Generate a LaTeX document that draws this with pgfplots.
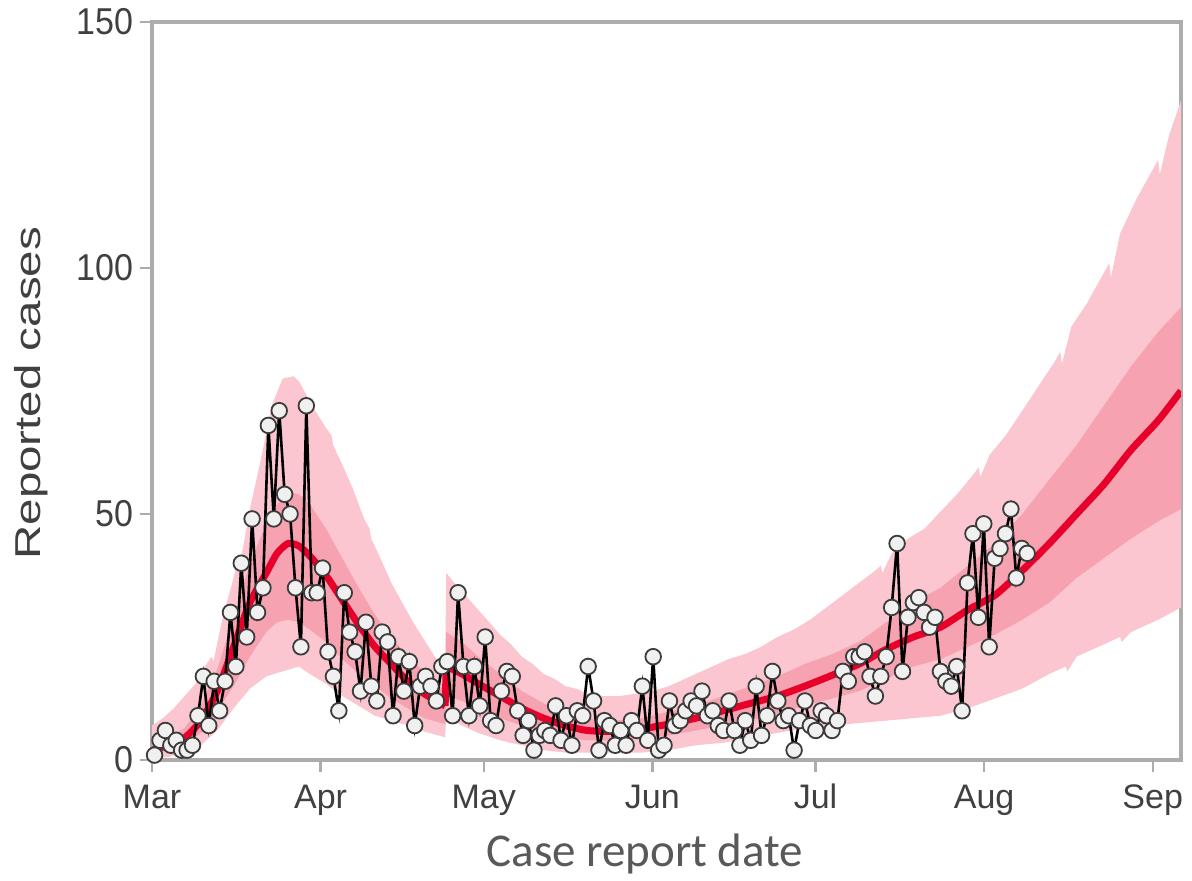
\documentclass[border=0pt]{standalone}
\usepackage{fontspec}
\setmainfont{Liberation Sans}
\newfontfamily\carlito{Carlito}
\usepackage{pgfplots}
\usepackage{pgfplotstable}
\pgfplotsset{compat=1.18}
\usepgfplotslibrary{fillbetween}
\definecolor{medred}{RGB}{230,0,42}
\definecolor{innerpink}{RGB}{247,162,177}
\definecolor{outerpink}{RGB}{251,198,208}
\definecolor{axisgray}{RGB}{172,172,172}
\definecolor{labelgray}{RGB}{64,64,64}
\definecolor{titlegray}{RGB}{89,89,89}
\definecolor{markfill}{RGB}{240,240,240}
\definecolor{markdraw}{RGB}{60,60,60}

\pgfplotstableread{
d v
0 1
1 4
2 6
3 3
4 4
5 2
6 2
7 3
8 9
9 17
10 7
11 16
12 10
13 16
14 30
15 19
16 40
17 25
18 49
19 30
20 35
21 68
22 49
23 71
24 54
25 50
26 35
27 23
28 72
29 34
30 34
31 39
32 22
33 17
34 10
35 34
36 26
37 22
38 14
39 28
40 15
41 12
42 26
43 24
44 9
45 21
46 14
47 20
48 7
49 15
50 17
51 15
52 12
53 19
54 20
55 9
56 34
57 19
58 9
59 19
60 11
61 25
62 8
63 7
64 14
65 18
66 17
67 10
68 5
69 8
70 2
71 5
72 6
73 5
74 11
75 4
76 9
77 3
78 10
79 9
80 19
81 12
82 2
83 8
84 7
85 3
86 6
87 3
88 8
89 6
90 15
91 4
92 21
93 2
94 3
95 12
96 7
97 8
98 10
99 12
100 11
101 14
102 9
103 10
104 7
105 6
106 12
107 6
108 3
109 8
110 4
111 15
112 5
113 9
114 18
115 12
116 8
117 9
118 2
119 8
120 12
121 7
122 6
123 10
124 9
125 6
126 8
127 18
128 16
129 21
130 21
131 22
132 17
133 13
134 17
135 21
136 31
137 44
138 18
139 29
140 32
141 33
142 30
143 27
144 29
145 18
146 16
147 15
148 19
149 10
150 36
151 46
152 29
153 48
154 23
155 41
156 43
157 46
158 51
159 37
160 43
161 42
}\obs

% outer (95%) band
\pgfplotstableread{
d hi
0 7
2 8.5
4 10.5
6 13
8 15.5
10 19.5
11 21
11.3 20
13 29
15 37
16 42
16.3 40.5
18 51
20 61
22 72
24 77.5
26 78
27 77
28 75
30 71
32 67.5
33 66
33.3 64
35 60
37 55
39 49
40 47
40.3 45
42 41
44 36
46 32
48 28
50 24.5
52 21
53.9 18.5
54.1 38
56 35.5
58 33
60 30.5
62 28
64 25.5
66 23.5
68 21
70 19.5
72 17.5
74 16.5
76 15
78 14.5
80 13.5
83 13
86 13
89 13.5
92 14
95 15
98 16.5
100 17.5
103 19
106 20.5
109 21.5
112 23
115 25
118 26.5
121 28.5
124 31
127 33.5
130 36
133 38.5
134 39.5
134.3 38
136 42
139 45
142 47
145 50.5
148 54
151 58
152 59.5
152.3 57.5
154 62
157 66
160 71
163 76
166 81
167 83
167.3 80.5
169 88
172 93
175 99
176 101
176.3 98
178 107
181 114
184 120
185 122
185.3 119
187 127
189.2 134
}\outerhi
\pgfplotstableread{
d lo
0 0.3
3 0.6
6 1.5
9 3
12 6
15 10.5
18 14.5
21 17
24 18
27 19
29 17.5
32 15.5
35 13
38 11
41 9
44 8
47 7
50 5.8
53.9 4.6
54.1 8.7
57 7
60 5.5
64 4
68 3
72 2
76 1.5
80 1.5
85 1.5
90 1.5
95 2
100 3
105 3.5
110 4.5
115 5.5
120 6.5
125 7
130 7.5
135 8
140 8.5
145 9
150 10.5
155 12.5
160 14.5
165 17.5
168 19
168.3 18
170 21
175 23.5
178 25
178.3 24
180 26
185 28.5
189.2 31
}\outerlo

% inner (50%) band
\pgfplotstableread{
d lo hi
0 1.3 3
3 2 4.5
6 3.2 6.5
9 5.5 11
12 10 18.5
15 15 29
18 21 40
21 26 48
23 28 52
25 28.5 54.5
27 28 54
29 26.5 52
32 24 47
35 20.5 41
38 17.5 35
41 15 29.5
44 12.5 25
47 10.5 21
50 8.5 18
53.9 7.3 14
54.1 13 26
57 12 24
60 10.5 21
64 8.5 17.5
68 7 14
72 5.5 11.5
76 4.5 9.5
80 4 8.5
85 4 8
90 4.3 8.5
95 5 9.8
100 6 11
105 7 13
110 8 15
115 9.5 17
120 11 19.5
125 12.5 21.5
130 14 24
135 16.5 28
140 19 32
145 20.5 35
150 23 39.5
155 25.5 44
160 28.5 50
165 32 57
170 37 64
175 41 72
180 45 80
185 48.5 87
189.2 51 92
}\inner

% median, two pieces either side of the step
\pgfplotstableread{
d v
0 2
3 3
6 4.5
9 8
12 14
15 23
18 32
21 38
23 42
25 44
27 43.5
29 41.5
32 37.5
35 32.5
38 27.5
41 23
44 19.5
47 16
50 13.5
53.9 11
}\medA
\pgfplotstableread{
d v
54.1 19
57 17.5
60 15.5
64 13
68 10.5
72 8.5
76 7
80 6
85 5.8
90 6.3
95 7.3
100 8.5
105 10
110 11.5
115 13
120 15
125 17.2
130 19.5
135 22.5
140 25
145 27
150 30.5
155 33.5
160 38.5
165 44
170 50
175 56
180 63
185 69
189.2 75
}\medB

\begin{document}
\begin{tikzpicture}
\begin{axis}[
  at={(0,0)}, anchor=south west,
  scale only axis, width=514.5pt, height=369pt,
  xmin=0, xmax=189.2, ymin=0, ymax=150,
  xtick={0,31,61,92,122,153,184},
  xticklabels={Mar,Apr,May,Jun,Jul,Aug,Sep},
  ytick={0,50,100,150},
  xtick pos=bottom, ytick pos=left,
  tick align=outside, major tick length=6pt,
  axis line style={draw=axisgray, line width=2pt},
  tick style={draw=axisgray, line width=1.2pt},
  /pgf/number format/assume math mode=true,
  tick label style={font=\fontsize{17}{17}\selectfont, text=labelgray},
  yticklabel style={yscale=1.1},
  xticklabel style={anchor=base, yshift=-18.5pt},
  xlabel={\carlito\fontsize{23.5}{23.5}\selectfont Case report date},
  xlabel style={at={(axis description cs:0.479,0)}, anchor=base, yshift=-53.5pt, text=titlegray},
  ylabel={\scalebox{1.32}[1]{\fontsize{18}{18}\selectfont Reported cases}},
  ylabel style={at={(axis description cs:-0.117,0.497)}, anchor=center, text=labelgray},
]
\addplot[name path=u95, draw=none, forget plot] table[x=d, y=hi] {\outerhi};
\addplot[name path=l95, draw=none, forget plot] table[x=d, y=lo] {\outerlo};
\addplot[outerpink, forget plot] fill between[of=u95 and l95];
\addplot[name path=u50, draw=none, forget plot] table[x=d, y=hi] {\inner};
\addplot[name path=l50, draw=none, forget plot] table[x=d, y=lo] {\inner};
\addplot[innerpink, forget plot] fill between[of=u50 and l50];
\addplot[medred, line width=3.5pt, smooth, tension=0.4] table[x=d, y=v] {\medA};
\addplot[medred, line width=3.5pt] coordinates {(53.9,11) (54.1,19)};
\addplot[medred, line width=3.5pt, smooth, tension=0.4] table[x=d, y=v] {\medB};
\addplot[black, line width=1.3pt, mark=*, mark size=3.9pt,
  mark options={fill=markfill, draw=markdraw, line width=0.9pt}]
  table[x expr=0.4735+0.9965*\thisrow{d}, y=v] {\obs};
\end{axis}
\pgfresetboundingbox
\useasboundingbox (-76pt,-60.5pt) rectangle (520pt,380pt);
\end{tikzpicture}
\end{document}
